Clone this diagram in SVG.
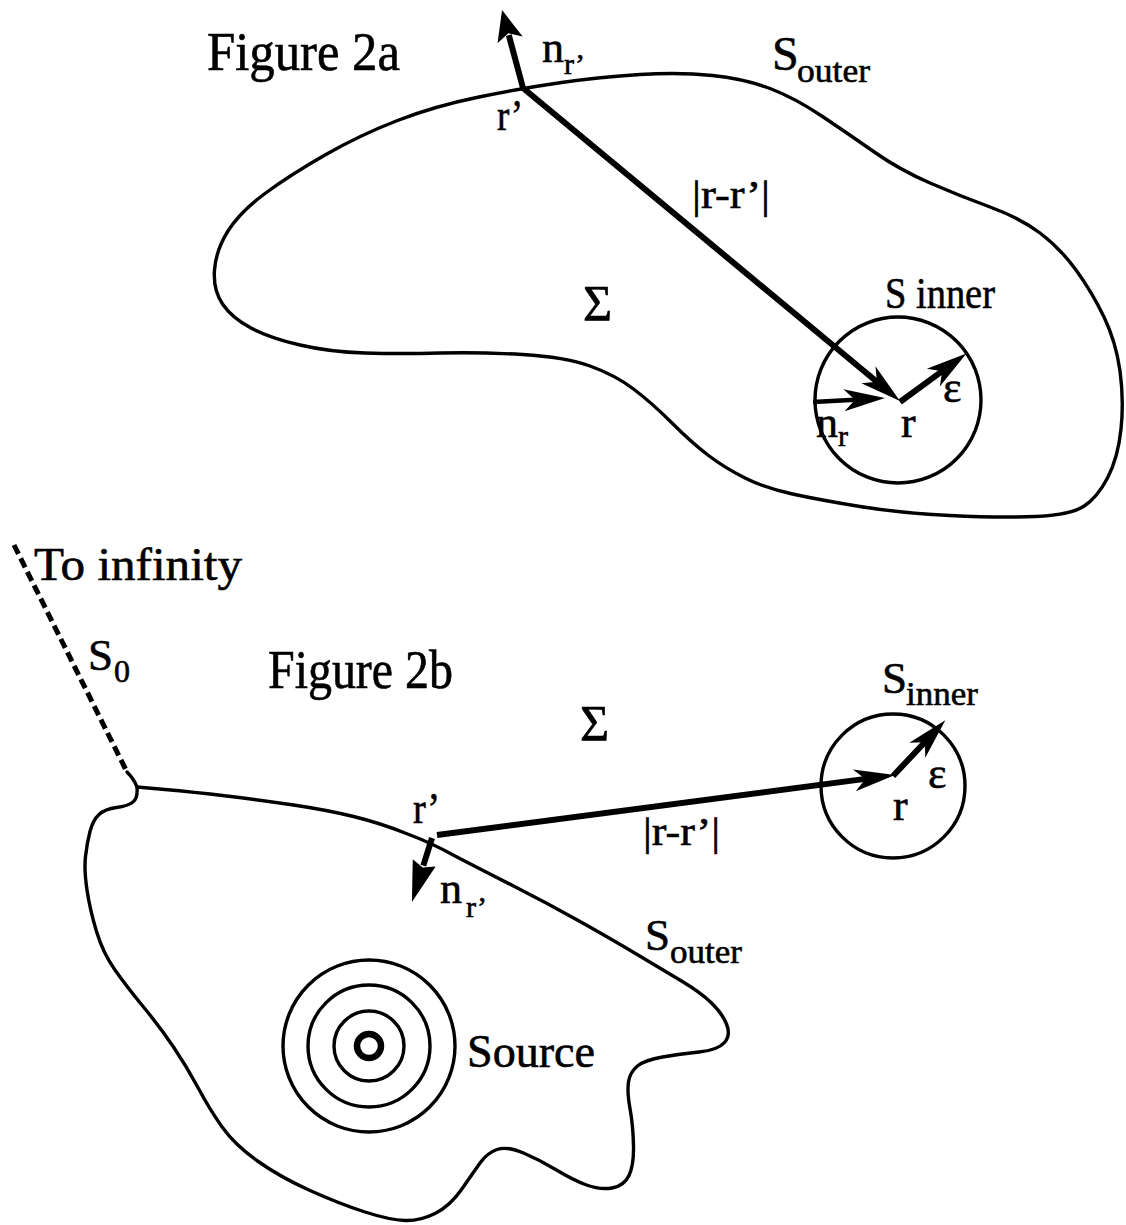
<svg xmlns="http://www.w3.org/2000/svg" width="1126" height="1225" viewBox="0 0 1126 1225">
<style>
.ln{fill:none;stroke:#000;stroke-width:3.4;stroke-linejoin:round;stroke-linecap:round}
.ar{fill:none;stroke:#000;stroke-width:6;stroke-linecap:butt}
.ar2{fill:none;stroke:#000;stroke-width:4.5;stroke-linecap:butt}
.dash{fill:none;stroke:#000;stroke-width:5;stroke-dasharray:10 5}
text{font-family:"Liberation Serif","Times New Roman",serif;fill:#000;stroke:#000;stroke-width:0.6}
.big{font-size:54px}
.m{font-size:44px}
.s{font-size:30px}
</style>
<defs>
<marker id="barb" markerUnits="userSpaceOnUse" orient="auto" overflow="visible" refX="0" refY="0" markerWidth="1" markerHeight="1">
<path d="M30,0 L-11,-11 L0,0 L-11,11 Z" fill="#000"/>
</marker>
<marker id="head" markerUnits="userSpaceOnUse" orient="auto" overflow="visible" refX="0" refY="0" markerWidth="1" markerHeight="1">
<path d="M26,0 L-5,-13 L2,0 L-5,13 Z" fill="#000"/>
</marker>
<marker id="head2" markerUnits="userSpaceOnUse" orient="auto" overflow="visible" refX="0" refY="0" markerWidth="1" markerHeight="1">
<path d="M38,0 L-3,-12 L2,0 L-3,12 Z" fill="#000"/>
</marker>
</defs>

<g id="fig2a-outer">
<path class="ln" d="M479,97 Q523,88 561.5,82.5 Q600,77 640,74.5 Q680,72 712.5,75.5 Q745,79 770,88.5 Q795,98 822.5,116.5 Q850,135 875,152.5 Q900,170 930,183 Q960,196 990,207 Q1020,218 1040,233 Q1060,248 1076,270 Q1092,292 1104,317 Q1116,342 1120,371 Q1124,400 1121,429 Q1118,458 1107.5,478 Q1097,498 1083.5,506.5 Q1070,515 1035,516.5 Q1000,518 950,515.5 Q900,513 860,506.5 Q820,500 792.5,494 Q765,488 745,478 Q725,468 708.5,455.5 Q692,443 672,423 Q652,403 633.5,389 Q615,375 590,366 Q565,357 522.5,354.5 Q480,352 440,353 Q400,354 365,353 Q330,352 300,345 Q270,338 251,328 Q232,318 222.5,304 Q213,290 214.5,270 Q216,250 228,231 Q240,212 265,193.5 Q290,175 325,155 Q360,135 397.5,120.5 Q435,106 479,97 Z"/>
</g>
<g id="fig2a-inner">
<circle class="ln" cx="898" cy="400" r="83"/>
</g>

<g id="fig2b-outer">
<path class="ln" d="M137,787 L165,789.5 Q193,792 226.5,796 Q260,800 293.5,805 Q327,810 353.5,816.5 Q380,823 405,833 Q432,843 455,856 Q480,869 513.5,886 Q547,903 580,921.5 Q613,940 638,955 Q663,970 681.5,981 Q700,992 711,1002.5 Q722,1013 726.5,1024 Q731,1035 724.5,1042.5 Q718,1050 699,1052 Q680,1054 662.5,1057 Q645,1060 637.5,1066 Q630,1072 628.5,1082 Q627,1092 630,1108.5 Q633,1125 633.5,1145 Q634,1165 629,1175.5 Q624,1186 612,1188 Q600,1190 586.5,1185 Q573,1180 556.5,1170 Q540,1160 523.5,1153 Q507,1146 497,1149.5 Q487,1153 480,1163 Q473,1173 461.5,1189.5 Q450,1206 435,1213.5 Q420,1221 405,1220.5 Q390,1220 365,1212 Q340,1204 310,1190.5 Q280,1177 257.5,1161 Q235,1145 222.5,1127.5 Q210,1110 198.5,1088.5 Q187,1067 173.5,1047 Q160,1027 143.5,1007 Q127,987 115,970 Q103,953 96.5,931.5 Q90,910 87,890 Q84,870 85.5,856.5 Q87,843 90,831.5 Q93,820 99,814.5 Q105,809 116.5,807.5 Q128,806 133,802 Q138,798 137,787 Z"/>
<path class="dash" d="M14,545 L127,772"/>
<path class="ln" d="M127,772 Q134,779 137,787"/>
</g>
<g id="fig2b-inner">
<circle class="ln" cx="893" cy="786" r="72"/>
</g>
<g id="source">
<circle class="ln" cx="369" cy="1046" r="86"/>
<circle class="ln" cx="369" cy="1046" r="61"/>
<circle class="ln" cx="369" cy="1046" r="35"/>
<circle cx="369" cy="1046" r="12" fill="none" stroke="#000" stroke-width="6.5"/>
</g>

<g id="connectors">
<path class="ar" d="M523,88 L508.8,35.1" marker-end="url(#head)"/>
<path class="ar" d="M523,88 L876.9,381.8" marker-end="url(#barb)"/>
<path class="ar2" d="M813,402 L855,399.7" marker-end="url(#barb)"/>
<path class="ar" d="M900,402 L942.2,371.2" marker-end="url(#barb)"/>
<path class="ar" d="M437,835 L865.3,778.9" marker-end="url(#barb)"/>
<path class="ar" d="M893,776 L924.8,742.2" marker-end="url(#barb)"/>
<path class="ar" d="M432,838 L423.3,865.7" marker-end="url(#head2)"/>
</g>

<g id="labels">
<text class="big" x="207" y="70" textLength="193" lengthAdjust="spacingAndGlyphs">Figure 2a</text>
<text class="m" x="542" y="62">n</text>
<text class="s" x="564" y="74">r’</text>
<text class="m" x="497" y="130" textLength="26" lengthAdjust="spacingAndGlyphs">r’</text>
<text x="772" y="70" style="font-size:48px">S</text>
<text x="797" y="82" style="font-size:34px" textLength="73" lengthAdjust="spacingAndGlyphs">outer</text>
<text x="692" y="208" style="font-size:40px" textLength="78" lengthAdjust="spacingAndGlyphs">|r-r’|</text>
<text x="583" y="320" style="font-size:50px">Σ</text>
<text x="885" y="308" style="font-size:45px" textLength="110" lengthAdjust="spacingAndGlyphs">S inner</text>
<text class="m" x="943" y="402">ε</text>
<text class="m" x="816" y="437">n</text>
<text class="s" x="838" y="446">r</text>
<text class="m" x="901" y="437">r</text>

<text x="34" y="580" style="font-size:46px" textLength="208" lengthAdjust="spacingAndGlyphs">To infinity</text>
<text x="88" y="670" style="font-size:45px">S</text>
<text x="114" y="682" style="font-size:32px">0</text>
<text class="big" x="268" y="688" textLength="185" lengthAdjust="spacingAndGlyphs">Figure 2b</text>
<text x="580" y="740" style="font-size:50px">Σ</text>
<text x="882" y="693" style="font-size:45px">S</text>
<text x="906" y="705" style="font-size:34px" textLength="72" lengthAdjust="spacingAndGlyphs">inner</text>
<text class="m" x="928" y="788">ε</text>
<text class="m" x="893" y="820">r</text>
<text class="m" x="413" y="823" textLength="27" lengthAdjust="spacingAndGlyphs">r’</text>
<text x="643" y="845" style="font-size:40px" textLength="77" lengthAdjust="spacingAndGlyphs">|r-r’|</text>
<text class="m" x="440" y="903">n</text>
<text class="s" x="466" y="917">r’</text>
<text x="645" y="950" style="font-size:45px">S</text>
<text x="670" y="963" style="font-size:34px" textLength="72" lengthAdjust="spacingAndGlyphs">outer</text>
<text x="467" y="1067" style="font-size:46px" textLength="128" lengthAdjust="spacingAndGlyphs">Source</text>
</g>
</svg>
